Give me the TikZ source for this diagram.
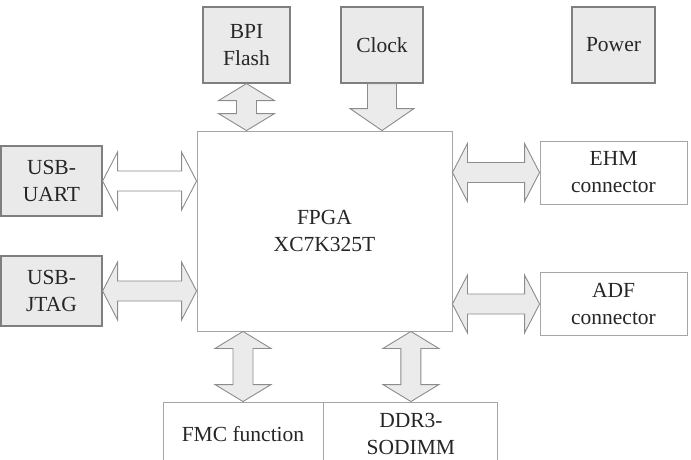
\documentclass[tikz,border=0pt]{standalone}
\usepackage{fontspec}
\setmainfont{Liberation Serif}
\usetikzlibrary{calc, positioning}
\definecolor{boxfill}{HTML}{EAEAEA}
\definecolor{boxedge}{HTML}{7F7F7F}
\definecolor{lineedge}{HTML}{A6A6A6}
\definecolor{arrowfill}{HTML}{EBEBEB}
\definecolor{arrowedge}{HTML}{8C8C8C}
\definecolor{textgray}{HTML}{262626}
\tikzset{
  graybox/.style={rectangle, draw=boxedge, fill=boxfill, line width=1.2pt, align=center,
                  text=textgray, inner sep=0pt},
  whitebox/.style={rectangle, draw=lineedge, fill=white, line width=0.9pt, align=center,
                   text=textgray, inner sep=0pt},
  blockarrow/.style={draw=arrowedge, fill=arrowfill, line width=0.9pt, line join=miter},
  hollow/.style={fill=white}
}
% fat two-headed arrows between two anchors
\newcommand{\hboth}[3][]{%
  \path[blockarrow,#1] let \p1=#2, \p2=#3 in
    (\x1,\y1) -- (\x1+15pt,\y1+29pt) -- (\x1+15pt,\y1+10pt) -- (\x2-15pt,\y1+10pt)
    -- (\x2-15pt,\y1+29pt) -- (\x2,\y1) -- (\x2-15pt,\y1-29pt) -- (\x2-15pt,\y1-10pt)
    -- (\x1+15pt,\y1-10pt) -- (\x1+15pt,\y1-29pt) -- cycle;}
\newcommand{\vboth}[3][]{%
  \path[blockarrow,#1] let \p1=#2, \p2=#3 in
    (\x1,\y1) -- (\x1+28pt,\y1-17pt) -- (\x1+10pt,\y1-17pt) -- (\x1+10pt,\y2+17pt)
    -- (\x1+28pt,\y2+17pt) -- (\x1,\y2) -- (\x1-28pt,\y2+17pt) -- (\x1-10pt,\y2+17pt)
    -- (\x1-10pt,\y1-17pt) -- (\x1-28pt,\y1-17pt) -- cycle;}
\newcommand{\vdown}[3][]{%
  \path[blockarrow,#1] let \p1=#2, \p2=#3 in
    (\x1-14.5pt,\y1) -- (\x1+14.5pt,\y1) -- (\x1+14.5pt,\y2+22pt) -- (\x1+32pt,\y2+22pt)
    -- (\x1,\y2) -- (\x1-32pt,\y2+22pt) -- (\x1-14.5pt,\y2+22pt) -- cycle;}

\begin{document}
\begin{tikzpicture}[x=1pt, y=-1pt, every node/.style={font=\fontsize{21.5}{27}\selectfont}]
  \clip (0,0) rectangle (691,459);

  % FPGA in the middle
  \node[whitebox, minimum width=255pt, minimum height=200pt] (fpga) at (324.5,231) {FPGA\\XC7K325T};

  % top row
  \node[graybox, minimum width=87pt, minimum height=76pt] (bpi) at (246.5,45) {BPI\\Flash};
  \node[graybox, minimum width=82pt, minimum height=76pt] (clock) at (382,45) {Clock};
  \node[graybox, minimum width=83pt, minimum height=76pt] (power) at (613.5,45) {Power};

  % left side
  \node[graybox, minimum width=101pt, minimum height=70pt] (uart) at (51.5,181) {USB-\\UART};
  \node[graybox, minimum width=101pt, minimum height=70pt] (jtag) at (51.5,291) {USB-\\JTAG};

  % right side
  \node[whitebox, minimum width=147pt, minimum height=63pt] (ehm) at (613.5,172.5) {EHM\\connector};
  \node[whitebox, minimum width=147pt, minimum height=63pt] (adf) at (613.5,304) {ADF\\connector};

  % bottom
  \node[whitebox, minimum width=160pt, minimum height=64pt] (fmc) at (243,434) {FMC function};
  \node[whitebox, minimum width=174pt, minimum height=64pt, right=0pt of fmc] (ddr) {DDR3-\\SODIMM};

  \vboth{(bpi.south)}{(bpi.south |- fpga.north)}
  \vdown{(clock.south)}{(clock.south |- fpga.north)}
  \hboth[hollow]{(uart.east)}{(uart.east -| fpga.west)}
  \hboth{(jtag.east)}{(jtag.east -| fpga.west)}
  \hboth{(ehm.west -| fpga.east)}{(ehm.west)}
  \hboth{(adf.west -| fpga.east)}{(adf.west)}
  \vboth{(fpga.south -| fmc.north)}{(fmc.north)}
  \vboth{(fpga.south -| ddr.north)}{(ddr.north)}
\end{tikzpicture}
\end{document}
